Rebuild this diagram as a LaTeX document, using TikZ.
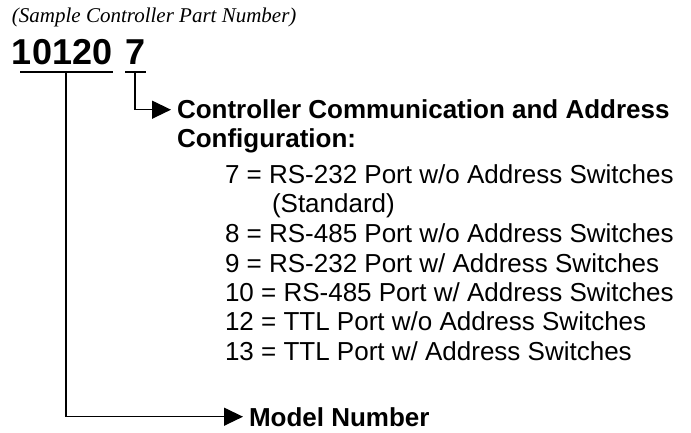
\documentclass[tikz,border=0pt]{standalone}
\usepackage{fontspec}
\setmainfont{Liberation Sans}
\newfontfamily\capfont{Liberation Serif}
\usetikzlibrary{arrows.meta}
\tikzset{
  txt/.style={anchor=base west, inner sep=0pt, outer sep=0pt},
  item/.style={txt, font=\fontsize{26}{28}\selectfont},
  head/.style={txt, font=\fontsize{26}{28}\selectfont\bfseries},
  uline/.style={line width=1.3pt},
  conn/.style={line width=1.3pt, -{Triangle[length=19pt,width=18pt]}, shorten >=6pt}
}
\begin{document}
\begin{tikzpicture}[x=1pt,y=-1pt]
\useasboundingbox (0,0) rectangle (691,433);
\node[txt, font=\fontsize{21}{24}\capfont\itshape] (cap) at (12,23) {(Sample Controller Part Number)};
\node[txt, font=\fontsize{36}{40}\selectfont\bfseries] (code) at (12,65) {10120};
\node[txt, font=\fontsize{36}{40}\selectfont\bfseries] (sel) at (125,65) {7};
\coordinate (ua) at (20,72);
\coordinate (ub) at (113,72);
\coordinate (uc) at (125,72);
\coordinate (ud) at (146,72);
\coordinate (u1) at (66,72);
\coordinate (u2) at (135,72);
\draw[uline] (ua) -- (ub);
\draw[uline] (uc) -- (ud);
\node[head] (comm1) at (177,119) {Controller Communication and Address};
\node[head] (comm2) at (177,148) {Configuration:};
\node[item] (i7) at (225,183) {7 = RS-232 Port w/o Address Switches};
\node[item] (i7b) at (272,212) {(Standard)};
\node[item] (i8) at (225,242) {8 = RS-485 Port w/o Address Switches};
\node[item] (i9) at (225,272) {9 = RS-232 Port w/ Address Switches};
\node[item] (i10) at (225,301) {10 = RS-485 Port w/ Address Switches};
\node[item] (i12) at (225,330) {12 = TTL Port w/o Address Switches};
\node[item] (i13) at (225,360) {13 = TTL Port w/ Address Switches};
\node[head] (model) at (249,426) {Model Number};
\draw[conn] (u2) |- (comm1.west);
\draw[conn] (u1) |- (model.west);
\end{tikzpicture}
\end{document}
